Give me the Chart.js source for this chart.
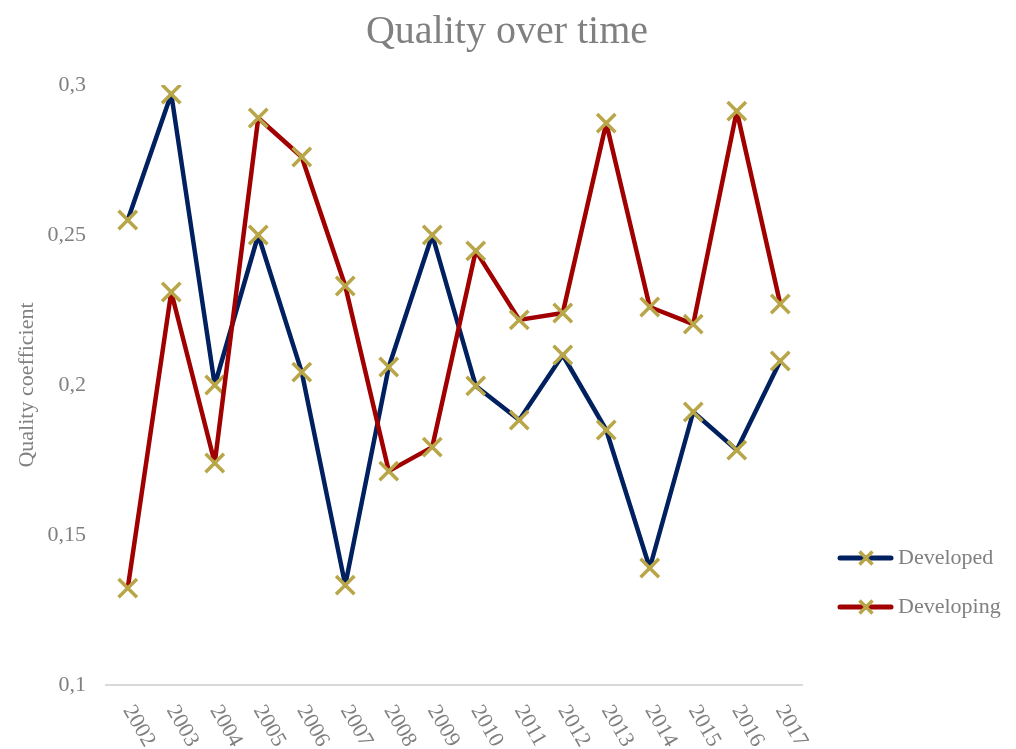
<!DOCTYPE html>
<html><head><meta charset="utf-8">
<script src="https://cdn.jsdelivr.net/npm/chart.js@4.4.0/dist/chart.umd.min.js"></script>
<style>html,body{margin:0;padding:0;background:#fff}canvas{display:block}</style>
</head><body>
<canvas id="c" width="1016" height="749"></canvas>
<script>
const years = ['2002','2003','2004','2005','2006','2007','2008','2009','2010','2011','2012','2013','2014','2015','2016','2017'];
const developed = [0.255,0.297,0.200,0.250,0.2043,0.1333,0.206,0.250,0.1997,0.1883,0.210,0.185,0.139,0.191,0.1783,0.208];
const developing = [0.1323,0.231,0.174,0.289,0.276,0.233,0.1713,0.1793,0.2447,0.2217,0.224,0.2873,0.226,0.2203,0.2913,0.227];
const seriesNames = ['Developed','Developing'];
const chartTitle = 'Quality over time';
const yAxisTitle = 'Quality coefficient';

const FONT = '"Liberation Serif", "Times New Roman", serif';
const GREY = '#808080';
const GOLD = '#B8A648';
const BLUE = '#002060';
const RED = '#A00000';

const customDraw = {
  id: 'customDraw',
  afterDraw(chart) {
    const ctx = chart.ctx;
    const xs = chart.scales.x;
    ctx.save();
    // title
    ctx.fillStyle = GREY;
    ctx.font = '40px ' + FONT;
    ctx.textAlign = 'center';
    ctx.textBaseline = 'alphabetic';
    ctx.fillText(chartTitle, 507, 43);
    // x labels
    ctx.font = '22px ' + FONT;
    ctx.textAlign = 'left';
    ctx.textBaseline = 'middle';
    years.forEach((lab, i) => {
      const px = xs.getPixelForTick(i);
      ctx.save();
      ctx.translate(px, 707);
      ctx.rotate(Math.PI / 3);
      ctx.fillText(lab, 0, 0);
      ctx.restore();
    });
    // legend
    const items = chart.data.datasets.map(d => ({label: d.label, color: d.borderColor}));
    const ys = [558, 607];
    items.forEach((it, i) => {
      const y = ys[i];
      ctx.strokeStyle = it.color;
      ctx.lineWidth = 5;
      ctx.lineCap = 'round';
      ctx.beginPath();
      ctx.moveTo(840, y);
      ctx.lineTo(891, y);
      ctx.stroke();
      ctx.strokeStyle = GOLD;
      ctx.lineWidth = 3.5;
      ctx.lineCap = 'butt';
      const r = 6.5;
      ctx.beginPath();
      ctx.moveTo(866 - r, y - r); ctx.lineTo(866 + r, y + r);
      ctx.moveTo(866 + r, y - r); ctx.lineTo(866 - r, y + r);
      ctx.stroke();
      ctx.fillStyle = GREY;
      ctx.font = '22px ' + FONT;
      ctx.textAlign = 'left';
      ctx.textBaseline = 'middle';
      ctx.fillText(it.label, 898, y);
    });
    ctx.restore();
  }
};

const mk = (label, data, color, order) => ({
  label, data, order,
  borderColor: color,
  backgroundColor: color,
  borderWidth: 4.5,
  borderJoinStyle: 'round',
  fill: false,
  tension: 0,
  pointStyle: 'crossRot',
  pointRadius: 13,
  pointHoverRadius: 13,
  pointBorderColor: GOLD,
  pointBackgroundColor: GOLD,
  pointBorderWidth: 3.5
});

new Chart(document.getElementById('c'), {
  type: 'line',
  data: {
    labels: years,
    datasets: [mk(seriesNames[0], developed, BLUE, 1), mk(seriesNames[1], developing, RED, 0)]
  },
  options: {
    responsive: false,
    animation: false,
    layout: { padding: { left: 0, right: 214, top: 85, bottom: 0 } },
    plugins: {
      legend: { display: false },
      tooltip: { enabled: false },
      title: { display: false }
    },
    scales: {
      x: {
        type: 'category',
        offset: true,
        grid: { display: false, drawTicks: false },
        border: { display: true, color: '#D9D9D9', width: 2 },
        ticks: { display: false },
        afterFit(s) { s.height = 64; }
      },
      y: {
        min: 0.1, max: 0.3,
        grid: { display: false, drawTicks: false },
        border: { display: false },
        ticks: {
          stepSize: 0.05,
          padding: 20,
          color: GREY,
          font: { family: FONT, size: 22 },
          callback: v => String(Math.round(v * 100) / 100).replace('.', ',')
        },
        title: {
          display: true,
          text: yAxisTitle,
          color: GREY,
          font: { family: FONT, size: 22 },
          padding: { top: 14, bottom: 0 }
        },
        afterFit(s) { s.width = 106; }
      }
    }
  },
  plugins: [customDraw]
});
</script>
</body></html>
